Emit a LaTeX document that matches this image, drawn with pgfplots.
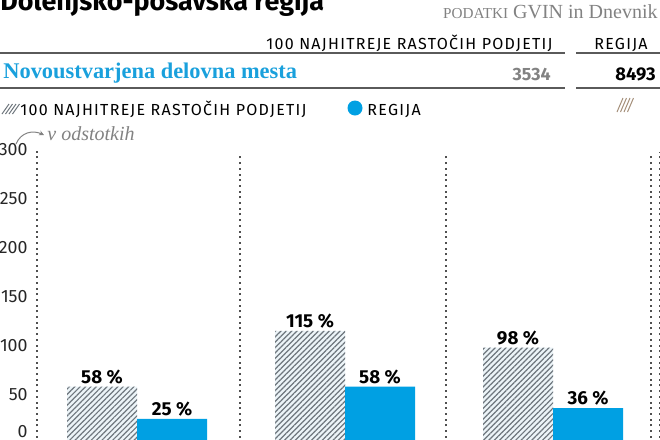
\documentclass[border=0pt]{standalone}
\usepackage{pgfplots}
\pgfplotsset{compat=1.18}
\usepackage{fontspec}
\setmainfont{Fira Sans}
\newfontfamily\serif{Liberation Serif}
\newfontfamily\spaced[LetterSpace=8]{Fira Sans}
\usetikzlibrary{patterns.meta,arrows.meta}

\definecolor{regblue}{RGB}{0,160,227}
\definecolor{headblue}{RGB}{25,160,220}
\definecolor{hatchline}{RGB}{110,118,125}
\definecolor{hatchbg}{RGB}{236,244,248}
\definecolor{srcgray}{RGB}{130,130,130}
\definecolor{rulegray}{RGB}{90,90,90}
\definecolor{dotgray}{RGB}{80,80,80}
\tikzset{dots/.style={dotgray, line width=1pt, dash pattern=on 1pt off 1.85pt}}

\begin{document}
\begin{tikzpicture}
\begin{axis}[
    at={(18.5pt,-221.7pt)}, anchor=south west,
    scale only axis, width=307pt, height=146.7pt,
    xmin=-0.4808, xmax=2.471, ymin=0, ymax=300,
    clip=false,
    axis line style={draw=none},
    major tick length=0pt,
    xtick=\empty,
    ytick={11.7,50,100,150,200,250,300},
    yticklabels={0,50,100,150,200,250,300},
    yticklabel style={anchor=east, inner sep=0pt, xshift=-4.5pt,
        font=\fontsize{8.9}{9}\selectfont, text=black!85},
    /pgf/number format/assume math mode=true,
    ybar, bar width=0.3365,
    nodes near coords={\pgfmathprintnumber{\pgfplotspointmeta}~\%},
    nodes near coords style={font=\bfseries\fontsize{9.4}{10}\selectfont,
        anchor=base, yshift=1.6pt, inner sep=0pt, text=black},
]
% 100 najhitreje rastocih podjetij
\addplot[draw=none, fill=hatchbg, bar shift=-0.1683,
    postaction={pattern={Lines[angle=45,distance=1.9pt,line width=0.6pt]},
                pattern color=hatchline}]
    coordinates {(0,58) (1,115) (2,98)};
% regija
\addplot[draw=none, fill=regblue, bar shift=0.1683]
    coordinates {(0,25) (1,58) (2,36)};

\draw[dots] (axis cs:-0.4808,0) -- (axis cs:-0.4808,300);
\draw[dots] (axis cs:0.495,0) -- (axis cs:0.495,296);
\draw[dots] (axis cs:1.486,0) -- (axis cs:1.486,296);
\draw[dots] (axis cs:2.471,0) -- (axis cs:2.471,296);
\draw[dots] (axis cs:2.512,0) -- (axis cs:2.512,298);
\end{axis}

\begin{scope}[x=0.5pt,y=-0.5pt]
% title and source (cut by the top edge)
\node[anchor=base west, inner sep=0pt, font=\bfseries\fontsize{13.45}{14}\selectfont]
    at (0,10) {Dolenjsko-posavska regija};
\node[anchor=base east, inner sep=0pt, text=srcgray, font=\serif\fontsize{10}{10}\selectfont]
    at (658,18) {{\fontsize{7.6}{8}\selectfont PODATKI} GVIN in Dnevnik};

% table header
\node[anchor=base east, inner sep=0pt, font=\spaced\fontsize{8}{8}\selectfont]
    at (553,49) {100 NAJHITREJE RASTOČIH PODJETIJ};
\node[anchor=base, inner sep=0pt, font=\spaced\fontsize{8}{8}\selectfont]
    at (621,49) {REGIJA};
\draw[rulegray, line width=0.7pt] (0,53) -- (565,53) (576,53) -- (660,53);
\draw[rulegray, line width=0.7pt] (0,88) -- (565,88) (576,88) -- (660,88);
\node[anchor=base west, inner sep=0pt, text=headblue, font=\serif\bfseries\fontsize{11.2}{11}\selectfont]
    at (3,78) {Novoustvarjena delovna mesta};
\node[anchor=base east, inner sep=0pt, text=srcgray, font=\bfseries\fontsize{8.9}{9}\selectfont]
    at (551,80) {3534};
\node[anchor=base east, inner sep=0pt, font=\bfseries\fontsize{9.2}{9}\selectfont]
    at (656,80) {8493};

% legend
\foreach \i in {0,1,2,3}
    \draw[hatchline, line width=0.5pt] (2+3.5*\i,114) -- (9+3.5*\i,104);
\node[anchor=base west, inner sep=0pt, font=\spaced\fontsize{8}{8}\selectfont]
    at (20,115) {100 NAJHITREJE RASTOČIH PODJETIJ};
\fill[regblue] (355,108) circle (7.5);
\node[anchor=base west, inner sep=0pt, font=\spaced\fontsize{8}{8}\selectfont]
    at (367,115) {REGIJA};
\foreach \i in {0,1,2,3}
    \draw[black!45!brown!60, line width=0.5pt] (617+3.5*\i,112) -- (623+3.5*\i,98);

% unit note
\draw[srcgray, line width=0.5pt, -{Stealth[length=2.5pt,width=2.5pt]}]
    (16,144) .. controls (21,132) and (33,130) .. (44,135);
\node[anchor=base west, inner sep=0pt, text=srcgray, font=\serif\itshape\fontsize{10}{10}\selectfont]
    at (47,140) {v odstotkih};

\pgfresetboundingbox
\path[use as bounding box] (0,0) rectangle (660,440);
\end{scope}
\end{tikzpicture}
\end{document}
